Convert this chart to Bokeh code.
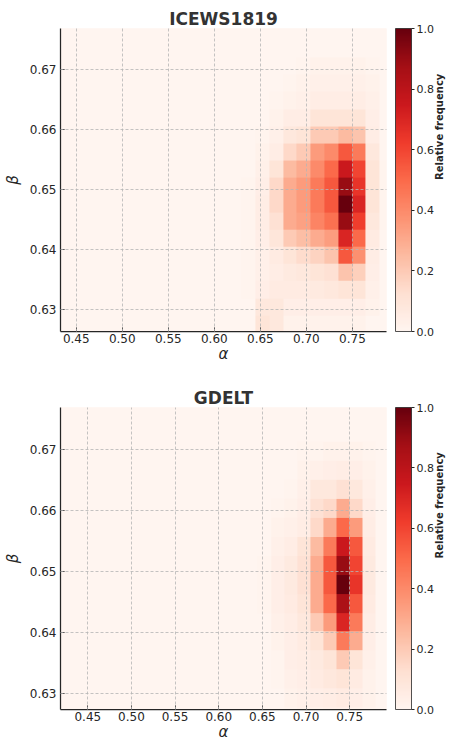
import math
import numpy as np
from bokeh.plotting import figure
from bokeh.models import (LinearColorMapper, ColorBar, FixedTicker, Range1d,
                          NumeralTickFormatter, LinearAxis)
from bokeh.layouts import column
from bokeh.palettes import Reds256
from bokeh.embed import file_html
from bokeh.resources import INLINE

# ---------------- data ----------------
# alpha bins (shared by both panels)
alpha_start = 0.4045
alpha_bin = 0.015
n_alpha = 26
block_first_col = 15          # columns 15..25 hold all visible mass; others are 0

# ICEWS1819: beta bins, rows bottom -> top, values for alpha columns 15..25
icews_beta_start = 0.62608
icews_beta_bin = 0.00287
icews_rows = [
    [0.00, 0.10, 0.08, 0.02, 0.02, 0.02, 0.02, 0.02, 0.02, 0.00, 0.00],
    [0.00, 0.08, 0.08, 0.04, 0.04, 0.04, 0.04, 0.04, 0.04, 0.02, 0.00],
    [0.01, 0.04, 0.06, 0.06, 0.06, 0.07, 0.08, 0.10, 0.10, 0.03, 0.00],
    [0.01, 0.03, 0.05, 0.07, 0.08, 0.10, 0.12, 0.22, 0.18, 0.04, 0.00],
    [0.01, 0.03, 0.06, 0.10, 0.14, 0.17, 0.22, 0.55, 0.38, 0.05, 0.00],
    [0.01, 0.04, 0.09, 0.20, 0.24, 0.30, 0.34, 0.70, 0.50, 0.06, 0.00],
    [0.01, 0.05, 0.12, 0.30, 0.33, 0.42, 0.48, 0.90, 0.62, 0.08, 0.01],
    [0.01, 0.05, 0.15, 0.30, 0.35, 0.45, 0.55, 1.00, 0.70, 0.10, 0.01],
    [0.01, 0.04, 0.15, 0.30, 0.35, 0.45, 0.55, 0.90, 0.65, 0.10, 0.01],
    [0.00, 0.03, 0.10, 0.25, 0.30, 0.40, 0.50, 0.75, 0.60, 0.10, 0.01],
    [0.00, 0.02, 0.05, 0.15, 0.20, 0.35, 0.40, 0.55, 0.45, 0.08, 0.00],
    [0.00, 0.01, 0.03, 0.08, 0.10, 0.20, 0.20, 0.25, 0.22, 0.05, 0.00],
    [0.00, 0.00, 0.02, 0.05, 0.05, 0.10, 0.10, 0.10, 0.10, 0.04, 0.00],
    [0.00, 0.00, 0.01, 0.02, 0.03, 0.05, 0.05, 0.05, 0.05, 0.03, 0.00],
    [0.00, 0.00, 0.00, 0.01, 0.02, 0.03, 0.03, 0.03, 0.03, 0.02, 0.00],
    [0.00, 0.00, 0.00, 0.00, 0.01, 0.02, 0.02, 0.02, 0.02, 0.01, 0.00],
    [0.00, 0.00, 0.00, 0.00, 0.00, 0.00, 0.00, 0.00, 0.00, 0.00, 0.00],
    [0.00, 0.00, 0.00, 0.00, 0.00, 0.00, 0.00, 0.00, 0.00, 0.00, 0.00],
]

# GDELT
gdelt_beta_start = 0.62464
gdelt_beta_bin = 0.0031
gdelt_rows = [
    [0.00, 0.00, 0.00, 0.01, 0.02, 0.02, 0.03, 0.03, 0.02, 0.01, 0.00],
    [0.00, 0.00, 0.00, 0.02, 0.03, 0.04, 0.05, 0.06, 0.04, 0.02, 0.00],
    [0.00, 0.00, 0.01, 0.03, 0.04, 0.06, 0.08, 0.10, 0.06, 0.02, 0.00],
    [0.00, 0.00, 0.01, 0.04, 0.05, 0.07, 0.10, 0.20, 0.10, 0.03, 0.00],
    [0.00, 0.00, 0.02, 0.04, 0.06, 0.10, 0.20, 0.45, 0.30, 0.04, 0.00],
    [0.00, 0.00, 0.03, 0.05, 0.08, 0.20, 0.35, 0.70, 0.45, 0.05, 0.00],
    [0.00, 0.01, 0.04, 0.06, 0.10, 0.30, 0.50, 0.85, 0.55, 0.06, 0.00],
    [0.00, 0.01, 0.04, 0.07, 0.12, 0.30, 0.55, 1.00, 0.65, 0.07, 0.00],
    [0.00, 0.01, 0.04, 0.07, 0.12, 0.30, 0.55, 0.90, 0.60, 0.07, 0.00],
    [0.00, 0.00, 0.03, 0.05, 0.10, 0.25, 0.45, 0.75, 0.55, 0.06, 0.00],
    [0.00, 0.00, 0.02, 0.03, 0.05, 0.15, 0.30, 0.50, 0.35, 0.05, 0.00],
    [0.00, 0.00, 0.01, 0.02, 0.04, 0.12, 0.15, 0.30, 0.15, 0.04, 0.00],
    [0.00, 0.00, 0.00, 0.01, 0.03, 0.08, 0.08, 0.12, 0.08, 0.03, 0.00],
    [0.00, 0.00, 0.00, 0.00, 0.02, 0.03, 0.04, 0.05, 0.04, 0.02, 0.00],
    [0.00, 0.00, 0.00, 0.00, 0.01, 0.01, 0.02, 0.02, 0.02, 0.01, 0.00],
    [0.00, 0.00, 0.00, 0.00, 0.00, 0.00, 0.00, 0.00, 0.00, 0.00, 0.00],
    [0.00, 0.00, 0.00, 0.00, 0.00, 0.00, 0.00, 0.00, 0.00, 0.00, 0.00],
]

x_ticks = [0.45, 0.50, 0.55, 0.60, 0.65, 0.70, 0.75]
y_ticks = [0.63, 0.64, 0.65, 0.66, 0.67]
cb_ticks = [0.0, 0.2, 0.4, 0.6, 0.8, 1.0]

icews_xr = (0.4329, 0.7870)
icews_yr = (0.6263, 0.6769)
gdelt_xr = (0.4187, 0.7922)
gdelt_yr = (0.6274, 0.6769)

# ---------------- drawing ----------------
FONT = "DejaVu Sans"
TXT = "#262626"
palette = list(Reds256)[::-1]
FRAME_W = 326


def full_grid(rows):
    block = np.array(rows, dtype=float)
    arr = np.zeros((block.shape[0], n_alpha))
    arr[:, block_first_col:block_first_col + block.shape[1]] = block
    return arr


def panel(title, rows, beta_start, beta_bin, xr, yr, frame_h, top, bottom):
    p = figure(frame_width=FRAME_W, frame_height=frame_h,
               x_range=Range1d(*xr), y_range=Range1d(*yr),
               output_backend="svg", toolbar_location=None,
               min_border_left=60, min_border_right=65,
               min_border_top=top, min_border_bottom=bottom, title=title)
    p.outline_line_color = None
    p.background_fill_color = "#fff5f0"
    p.border_fill_color = "white"

    arr = full_grid(rows)
    mapper = LinearColorMapper(palette=palette, low=0.0, high=1.0)
    p.image(image=[arr], x=alpha_start, y=beta_start,
            dw=n_alpha * alpha_bin, dh=arr.shape[0] * beta_bin, color_mapper=mapper)

    # title
    p.title.text_font = FONT
    p.title.text_font_size = "17px"
    p.title.text_font_style = "bold"
    p.title.text_color = "#333333"
    p.title.align = "center"
    p.title.standoff = 0

    # axes
    for ax in (p.xaxis, p.yaxis):
        ax.major_label_text_font = FONT
        ax.major_label_text_font_size = "12px"
        ax.major_label_text_color = TXT
        ax.axis_label_text_font = FONT
        ax.axis_label_text_font_size = "15px"
        ax.axis_label_text_font_style = "italic"
        ax.axis_label_text_color = TXT
        ax.axis_line_color = TXT
        ax.axis_line_width = 1.25
        ax.major_tick_in = 4
        ax.major_tick_out = 0
        ax.major_tick_line_color = TXT
        ax.minor_tick_line_color = None
        ax.formatter = NumeralTickFormatter(format="0.00")
    p.xaxis.ticker = FixedTicker(ticks=x_ticks)
    p.yaxis.ticker = FixedTicker(ticks=y_ticks)
    p.xaxis.axis_label = "α"
    p.yaxis.axis_label = "β"
    p.xaxis.major_label_standoff = 2
    p.xaxis.axis_label_standoff = -1
    p.yaxis.major_label_standoff = 4
    p.yaxis.axis_label_standoff = 5

    # grid on top of the image
    for g in (p.xgrid, p.ygrid):
        g.grid_line_color = "#b5b5b5"
        g.grid_line_dash = "3 2"
        g.grid_line_width = 0.8
        g.level = "annotation"

    # colour bar
    cb = ColorBar(color_mapper=mapper, location=(FRAME_W + 9, 0), width=16, height=frame_h,
                  padding=0, margin=0, ticker=FixedTicker(ticks=cb_ticks),
                  formatter=NumeralTickFormatter(format="0.0"),
                  major_label_text_font=FONT, major_label_text_font_size="11px",
                  major_label_text_color=TXT,
                  major_tick_in=0, major_tick_out=3, major_tick_line_color=TXT,
                  minor_tick_line_color=None,
                  bar_line_color=TXT, bar_line_width=0.8, label_standoff=2,
                  background_fill_color=None, border_line_color=None)
    p.add_layout(cb, "center")

    # colour-bar caption as the label of an empty right axis
    cap = LinearAxis(ticker=FixedTicker(ticks=[]), axis_label="Relative frequency",
                     axis_line_color=None, major_tick_out=0, major_tick_in=0,
                     major_label_standoff=0, minor_tick_line_color=None,
                     axis_label_standoff=53, axis_label_text_font=FONT,
                     axis_label_text_font_size="10px", axis_label_text_font_style="bold",
                     axis_label_text_color=TXT)
    try:
        cap.axis_label_orientation = math.pi / 2
    except Exception:
        pass
    p.add_layout(cap, "right")
    return p


p1 = panel("ICEWS1819", icews_rows, icews_beta_start, icews_beta_bin,
           icews_xr, icews_yr, frame_h=303, top=28, bottom=36)
p2 = panel("GDELT", gdelt_rows, gdelt_beta_start, gdelt_beta_bin,
           gdelt_xr, gdelt_yr, frame_h=302, top=40, bottom=33)

layout = column(p1, p2, spacing=0)
open("out.html", "w").write(file_html(layout, INLINE))
